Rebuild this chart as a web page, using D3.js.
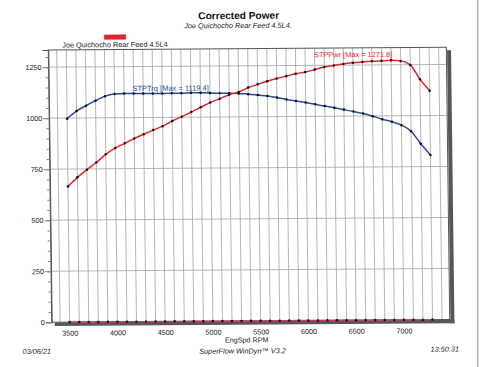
<!DOCTYPE html>
<html>
<head>
<meta charset="utf-8">
<script src="https://cdn.jsdelivr.net/npm/d3@7"></script>
<style>
  html, body { margin: 0; padding: 0; background: #fff; }
  svg { display: block; font-family: "Liberation Sans", Arial, sans-serif; }
</style>
</head>
<body>
<svg id="chart" width="480" height="367"></svg>
<script>
// ---- data ----
const rpm = [3500, 3600, 3700, 3800, 3900, 4000, 4100, 4200, 4300, 4400,
             4500, 4600, 4700, 4800, 4900, 5000, 5100, 5200, 5300, 5400,
             5500, 5600, 5700, 5800, 5900, 6000, 6100, 6200, 6300, 6400,
             6500, 6600, 6700, 6800, 6900, 7000, 7100, 7200, 7300];
const stpTrq = [997, 1034, 1060, 1084, 1106, 1116, 1118, 1118, 1118, 1117,
                1117, 1118, 1118, 1119.4, 1119, 1118, 1116, 1116, 1115, 1111,
                1107, 1101, 1094, 1084, 1076, 1068, 1059, 1050, 1042, 1032,
                1022, 1012, 999, 984, 971, 954, 924, 862, 807];
const stpPwr = [664, 709, 746, 781, 821, 851, 874, 897, 918, 938,
                957, 982, 1003, 1025, 1048, 1071, 1089, 1109, 1122, 1143,
                1159, 1174, 1187, 1198, 1209, 1218, 1229, 1241, 1249, 1256,
                1261, 1265, 1268, 1270, 1271.8, 1269, 1249, 1178, 1122];
const baseLine = [0, 0, 0, 0, 0, 0, 0, 0, 0, 0,
                  0, 0, 0, 0, 0, 0, 0, 0, 0, 0,
                  0, 0, 0, 0, 0, 0, 0, 0, 0, 0,
                  0, 0, 0, 0, 0, 0, 0, 0, 0];
const yTickValues = [0, 250, 500, 750, 1000, 1250];
const xTickLabels = [3500, 4000, 4500, 5000, 5500, 6000, 6500, 7000];
const xGridValues = [3400, 3500, 3600, 3700, 3800, 3900, 4000, 4100, 4200, 4300,
                     4400, 4500, 4600, 4700, 4800, 4900, 5000, 5100, 5200, 5300,
                     5400, 5500, 5600, 5700, 5800, 5900, 6000, 6100, 6200, 6300,
                     6400, 6500, 6600, 6700, 6800, 6900, 7000, 7100, 7200, 7300, 7400];
const titleText = "Corrected Power";
const subtitleText = "Joe Quichocho Rear Feed 4.5L4.";
const legendText = "Joe Quichocho Rear Feed 4.5L4";
const trqLabel = "STPTrq [Max = 1119.4]";
const pwrLabel = "STPPwr [Max = 1271.8]";
const xAxisTitle = "EngSpd RPM";
const footerText = "SuperFlow WinDyn\u2122 V3.2";
const dateText = "03/06/21";
const timeText = "13:50:31";

// ---- layout ----
const L = 48.3, R = 446.3, T = 50, B = 322.2;
const RED = "#e8232b", BLUE = "#284b9c";

const svg = d3.select("#chart");
svg.append("rect").attr("width", 480).attr("height", 367).attr("fill", "#fff");

// page edge of the scan
svg.append("line").attr("x1", 477.7).attr("x2", 477.7).attr("y1", 0).attr("y2", 367)
  .attr("stroke", "#b4b4b4").attr("stroke-width", 1.6);

// slight scan skew
const g = svg.append("g").attr("transform", "matrix(1,-0.00678,0.0125,1,-0.625,0.3275)");

const x = d3.scaleLinear().domain([3312, 7480]).range([L, R]);
const y = d3.scaleLinear().domain([0, 1334]).range([B, T]);

// titles
g.append("text").attr("x", 239.1).attr("y", 20.3).attr("text-anchor", "middle")
  .attr("font-size", 10.1).attr("font-weight", "bold").attr("fill", "#111").text(titleText);
g.append("text").attr("x", 238.3).attr("y", 29.3).attr("text-anchor", "middle")
  .attr("font-size", 7.3).attr("font-style", "italic").attr("fill", "#222").text(subtitleText);

// legend
g.append("rect").attr("x", 104.5).attr("y", 35.4).attr("width", 21.4).attr("height", 4.3)
  .attr("fill", RED).attr("stroke", "#a0161c").attr("stroke-width", 0.5);
g.append("text").attr("x", 62.3).attr("y", 47.6).attr("font-size", 7.3).attr("fill", "#222")
  .text(legendText);

// shadow
g.append("rect").attr("x", R + 0.7).attr("y", T + 3).attr("width", 4)
  .attr("height", B - T + 0.8).attr("fill", "#5b5656");
g.append("rect").attr("x", L + 3).attr("y", B + 0.3).attr("width", R - L + 1.7)
  .attr("height", 3.6).attr("fill", "#5b5656");

// grid
g.append("g").selectAll("line").data(xGridValues).join("line")
  .attr("x1", d => x(d)).attr("x2", d => x(d)).attr("y1", T).attr("y2", B)
  .attr("stroke", "#a4a4a4").attr("stroke-width", 0.8);
g.append("g").selectAll("line").data(yTickValues.filter(d => d > 0)).join("line")
  .attr("x1", L).attr("x2", R).attr("y1", d => y(d)).attr("y2", d => y(d))
  .attr("stroke", "#a4a4a4").attr("stroke-width", 0.8);

// frame
g.append("rect").attr("x", L).attr("y", T).attr("width", R - L).attr("height", B - T)
  .attr("fill", "none").attr("stroke", "#555").attr("stroke-width", 1);

// y axis: major + minor ticks
const yAxis = d3.axisLeft(y).tickValues(yTickValues).tickSize(6).tickPadding(1).tickFormat(d3.format("d"));
const ya = g.append("g").attr("transform", `translate(${L},0)`).call(yAxis);
ya.select(".domain").attr("stroke", "#555");
ya.selectAll(".tick line").attr("stroke", "#777");
ya.selectAll("text").attr("font-size", 7.2).attr("fill", "#222").attr("font-family", "Liberation Sans, Arial, sans-serif");
const yMinor = d3.axisLeft(y).tickValues(d3.range(0, 1334, 50)).tickSize(3).tickFormat("");
const ym = g.append("g").attr("transform", `translate(${L},0)`).call(yMinor);
ym.select(".domain").remove();
ym.selectAll(".tick line").attr("stroke", "#888");

// x axis labels
const xAxis = d3.axisBottom(x).tickValues(xTickLabels).tickSize(0).tickPadding(8).tickFormat(d3.format("d"));
const xa = g.append("g").attr("transform", `translate(0,${B + 0.5})`).call(xAxis);
xa.select(".domain").remove();
xa.selectAll("text").attr("font-size", 7.2).attr("fill", "#222").attr("font-family", "Liberation Sans, Arial, sans-serif");

// series
const line = (vals) => d3.line().x((d, i) => x(rpm[i])).y(d => y(d))(vals);
const curveLine = (vals) => d3.line().curve(d3.curveMonotoneX).x((d, i) => x(rpm[i])).y(d => y(d))(vals);

g.append("path").attr("d", line(baseLine)).attr("fill", "none")
  .attr("stroke", "#d8336a").attr("stroke-width", 1.3);
g.append("path").attr("d", curveLine(stpTrq)).attr("fill", "none")
  .attr("stroke", BLUE).attr("stroke-width", 1.5);
g.append("path").attr("d", curveLine(stpPwr)).attr("fill", "none")
  .attr("stroke", RED).attr("stroke-width", 1.5);

[baseLine, stpTrq, stpPwr].forEach(vals => {
  g.append("g").selectAll("circle").data(vals).join("circle")
    .attr("cx", (d, i) => x(rpm[i])).attr("cy", d => y(d)).attr("r", 1.25).attr("fill", "#111");
});

// series labels
g.append("text").attr("x", x(4188)).attr("y", y(1130)).attr("font-size", 7.5)
  .attr("fill", BLUE).text(trqLabel);
g.append("text").attr("x", x(6093)).attr("y", y(1289)).attr("font-size", 7.4)
  .attr("fill", RED).text(pwrLabel);

// axis title & footer
g.append("text").attr("x", 243).attr("y", 343.8).attr("text-anchor", "middle")
  .attr("font-size", 7.2).attr("fill", "#222").text(xAxisTitle);
g.append("text").attr("x", 238.7).attr("y", 354.8).attr("text-anchor", "middle")
  .attr("font-size", 7.3).attr("font-style", "italic").attr("fill", "#222").text(footerText);
g.append("text").attr("x", 18.8).attr("y", 353.8)
  .attr("font-size", 7.3).attr("font-style", "italic").attr("fill", "#222").text(dateText);
g.append("text").attr("x", 455.2).attr("y", 354.3).attr("text-anchor", "end")
  .attr("font-size", 7.3).attr("font-style", "italic").attr("fill", "#222").text(timeText);
</script>
</body>
</html>
